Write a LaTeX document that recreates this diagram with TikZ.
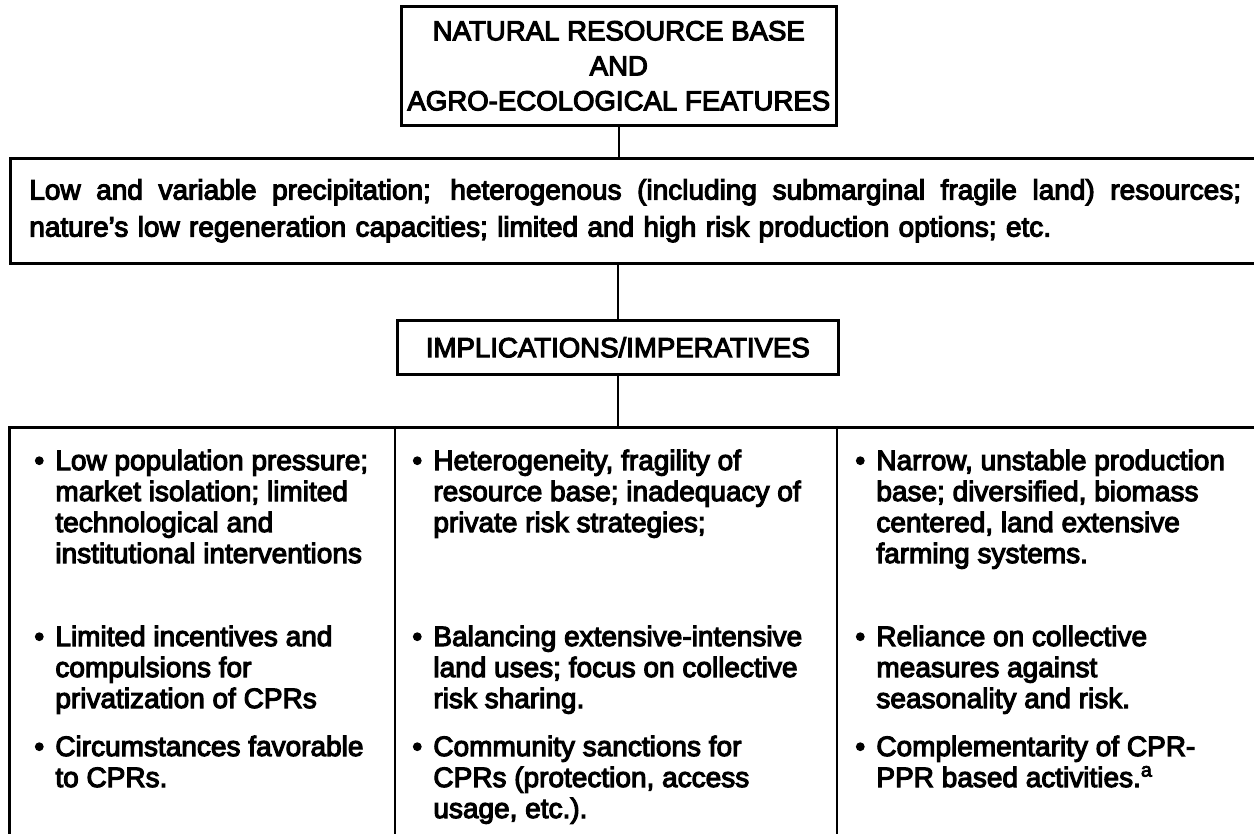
\documentclass[tikz,border=0pt]{standalone}
\usepackage{fontspec}
\setmainfont{Liberation Sans}[AutoFakeBold=4]
\usetikzlibrary{positioning}
\tikzset{
	frame/.style = {draw, line width=1.3pt, inner sep=0pt},
	link/.style = {line width=1pt},
	caps/.style = {font=\fontsize{13.8}{17.5}\selectfont\bfseries, align=center},
	entry/.style = {anchor=base west, inner sep=0pt, align=left, font=\fontsize{14}{15.5}\selectfont\bfseries},
}
\newcommand{\bul}{\makebox[10.5pt][l]{\textbullet}}
\newcommand{\ind}{\hspace*{10.5pt}}

\begin{document}
\begin{tikzpicture}[x=0.5pt, y=-0.5pt]
	\useasboundingbox (0,0) rectangle (1254,834);
	\clip (0,0) rectangle (1254,834);
	% the four boxes, two of them run off the page
	\node[frame, caps, anchor=north west, minimum width=217.5pt, minimum height=59.5pt] (base) at (400,5)
		{NATURAL RESOURCE BASE\\AND\\AGRO-ECOLOGICAL FEATURES};
	\node[frame, anchor=north west, text width=640pt, inner xsep=9.5pt, minimum height=52.5pt, align=left,
		font=\fontsize{14}{18.5}\selectfont\bfseries] (cond) at (9,157)
		{\makebox[606pt][s]{\spaceskip=3.9pt plus 1fil\relax Low and variable precipitation; heterogenous (including submarginal fragile land) resources;}\\
		 nature's low regeneration capacities; limited and high risk production options; etc.};
	\node[frame, caps, anchor=north west, minimum width=220.5pt, minimum height=27pt] (impl) at (396,319)
		{IMPLICATIONS/IMPERATIVES};
	\node[frame, anchor=north west, minimum width=700pt, minimum height=300pt] (cols) at (8,426) {};
	\foreach \x in {395,837}
		\draw[line width=1.3pt] (\x,426) -- (\x,900);
	% links
	\draw[link] (base.south) -- (base.south |- cond.north);
	\draw[link] (cond.south -| impl.north) -- (impl.north);
	\draw[link] (impl.south) -- (impl.south |- cols.north);
	% left column (nodes sit on the baseline of their last line)
	\node[entry] (l1) at (34,563) {\bul Low population pressure;\\\ind market isolation; limited\\\ind technological and\\\ind institutional interventions};
	\node[entry] (l2) at (34,708) {\bul Limited incentives and\\\ind compulsions for\\\ind privatization of CPRs};
	\node[entry] (l3) at (34,787) {\bul Circumstances favorable\\\ind to CPRs.};
	% middle column
	\node[entry] (m1) at (412,532) {\bul Heterogeneity, fragility of\\\ind resource base; inadequacy of\\\ind private risk strategies;};
	\node[entry] (m2) at (412,708) {\bul Balancing extensive-intensive\\\ind land uses; focus on collective\\\ind risk sharing.};
	\node[entry] (m3) at (412,818) {\bul Community sanctions for\\\ind CPRs (protection, access\\\ind usage, etc.).};
	% right column
	\node[entry] (r1) at (855,563) {\bul Narrow, unstable production\\\ind base; diversified, biomass\\\ind centered, land extensive\\\ind farming systems.};
	\node[entry] (r2) at (855,708) {\bul Reliance on collective\\\ind measures against\\\ind seasonality and risk.};
	\node[entry] (r3) at (855,787) {\bul Complementarity of CPR-\\\ind PPR based activities.\textsuperscript{a}};
\end{tikzpicture}
\end{document}
